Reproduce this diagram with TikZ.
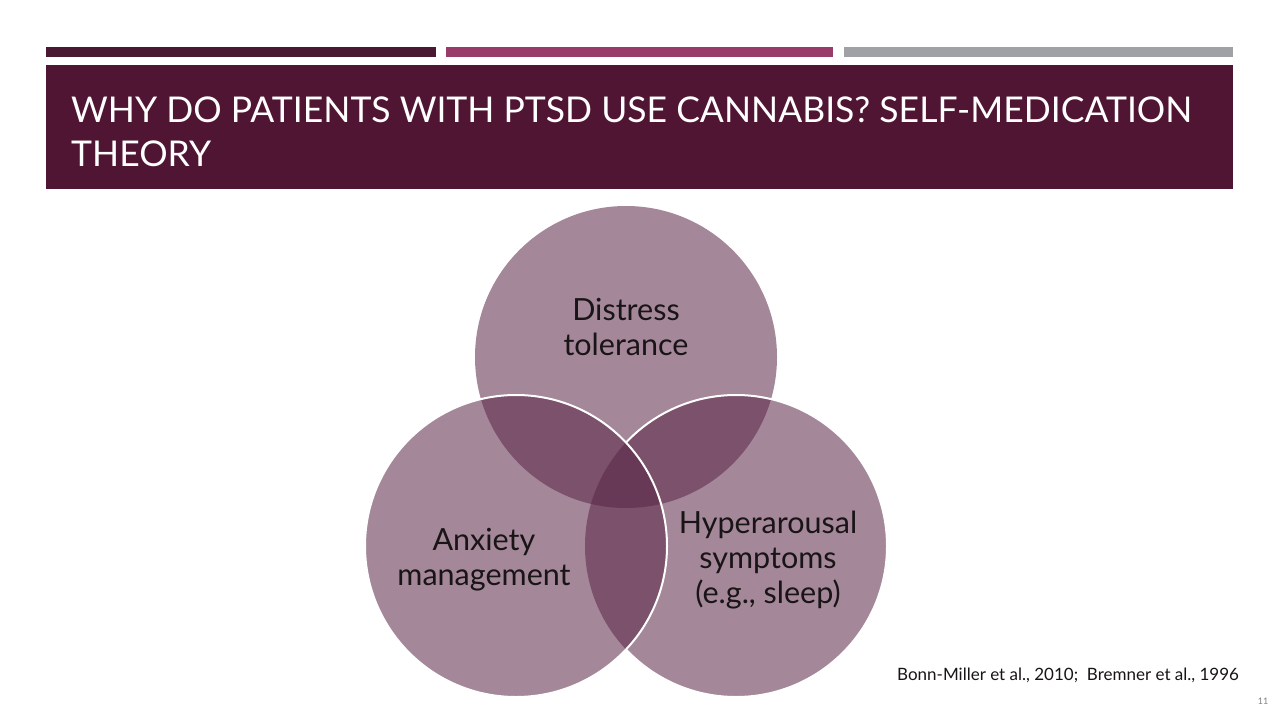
\documentclass[tikz,border=0pt]{standalone}
\usepackage{fontspec}
\setmainfont{Lato}
\definecolor{bardark}{RGB}{75,24,52}
\definecolor{barpink}{RGB}{152,58,106}
\definecolor{bargray}{RGB}{160,161,165}
\definecolor{titlebg}{RGB}{80,21,51}
\definecolor{vennc}{RGB}{90,37,71}
\definecolor{txt}{RGB}{25,20,22}
\tikzset{
  venn/.style={circle, minimum size=302pt, inner sep=0pt, fill=vennc, fill opacity=0.55},
  vlabel/.style={align=center, text=txt, font=\fontsize{30.5}{35}\selectfont},
  ttl/.style={anchor=base west, text=white, inner sep=0pt, font=\fontsize{35.5}{44}\selectfont},
}
\begin{document}
\begin{tikzpicture}[x=1pt,y=-1pt]
\useasboundingbox[fill=white] (0,0) rectangle (1280,720);
% top bars
\fill[bardark] (46,47) rectangle (436,57);
\fill[barpink] (446,47) rectangle (833,57);
\fill[bargray] (844,47) rectangle (1233,57);
% title box
\fill[titlebg] (46,65) rectangle (1233,189);
\node[ttl] (title1) at (71,122) {WHY DO PATIENTS WITH PTSD USE CANNABIS? SELF-MEDICATION};
\node[ttl] (title2) at (71,166) {THEORY};
% venn circles
\node[venn] (T) at (626,357) {};
\node[venn] (R) at (736,546) {};
\node[venn] (L) at (516,546) {};
\begin{scope}
  \clip (626,0) rectangle (1280,720);
  \draw[white, line width=2pt] (R.center) circle (151pt);
\end{scope}
\draw[white, line width=2pt] (L.center) circle (151pt);
% labels
\node[vlabel] (tT) at (626,327) {Distress\\tolerance};
\node[vlabel] (tL) at (484,560) {Anxiety\\management};
\node[vlabel] (tR) at (768,560) {Hyperarousal\\symptoms\\(e.g., sleep)};
% citation
\node[anchor=west, inner sep=0pt, text=txt, font=\fontsize{17}{20}\selectfont] (cite) at (897,675) {Bonn-Miller et al., 2010;\ \ Bremner et al., 1996};
\node[inner sep=0pt, text=gray, font=\fontsize{9}{10}\selectfont] (pg) at (1263,701) {11};
\end{tikzpicture}
\end{document}
